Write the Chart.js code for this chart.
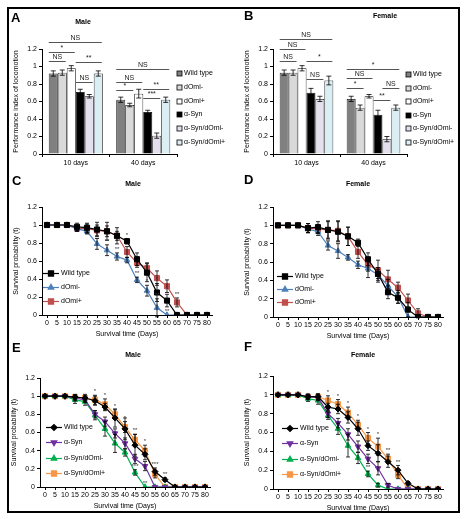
<!DOCTYPE html>
<html>
<head>
<meta charset="utf-8">
<script src="https://cdn.jsdelivr.net/npm/chart.js@4.4.1/dist/chart.umd.min.js"></script>
<style>
  body { margin: 0; background: #fff; }
  #fig { position: relative; width: 465px; height: 519px; background: #fff; }
  #frame { position: absolute; left: 7px; top: 7px; width: 449px; height: 502px; border: 2px solid #000; }
  canvas { position: absolute; }
</style>
</head>
<body>
<div id="fig">
  <div id="frame"></div>
  <canvas id="pA" width="224" height="164" style="left:8px;top:8px"></canvas>
  <canvas id="pB" width="222" height="164" style="left:239px;top:8px"></canvas>
  <canvas id="pC" width="224" height="168" style="left:8px;top:172px"></canvas>
  <canvas id="pD" width="222" height="168" style="left:239px;top:172px"></canvas>
  <canvas id="pE" width="224" height="172" style="left:8px;top:340px"></canvas>
  <canvas id="pF" width="222" height="172" style="left:239px;top:340px"></canvas>
</div>
<script>
// ---- data ----
const groups = ['10 days', '40 days'];
const barSeries = ['Wild type', 'dOmi-', 'dOmi+', 'α-Syn', 'α-Syn/dOmi-', 'α-Syn/dOmi+'];

// locomotion, one [10 days, 40 days] pair per genotype
const maleLoco = [[0.92, 0.62], [0.93, 0.56], [0.98, 0.69], [0.71, 0.48], [0.66, 0.21], [0.92, 0.62]];
const maleLocoErr = [[0.03, 0.03], [0.03, 0.02], [0.03, 0.05], [0.03, 0.02], [0.02, 0.03], [0.03, 0.03]];
const femaleLoco = [[0.93, 0.63], [0.93, 0.53], [0.98, 0.66], [0.70, 0.45], [0.63, 0.17], [0.84, 0.53]];
const femaleLocoErr = [[0.03, 0.03], [0.03, 0.03], [0.03, 0.02], [0.05, 0.05], [0.03, 0.03], [0.05, 0.03]];

// significance: [group, first bar, last bar, level, label]
const maleSig = [
  [0, 0, 5, 1.28, 'NS'], [0, 0, 2, 1.17, '*'], [0, 0, 1, 1.06, 'NS'], [0, 3, 5, 1.05, '**'], [0, 3, 4, 0.82, 'NS'],
  [1, 0, 5, 0.97, 'NS'], [1, 0, 2, 0.82, 'NS'], [1, 0, 1, 0.73, '*'], [1, 3, 5, 0.74, '**'], [1, 3, 4, 0.64, '***']
];
const femaleSig = [
  [0, 0, 5, 1.31, 'NS'], [0, 0, 2, 1.20, 'NS'], [0, 0, 1, 1.06, 'NS'], [0, 3, 5, 1.06, '*'], [0, 3, 4, 0.86, 'NS'],
  [1, 0, 5, 0.97, '*'], [1, 0, 2, 0.87, 'NS'], [1, 0, 1, 0.76, '*'], [1, 4, 5, 0.75, 'NS'], [1, 3, 4, 0.62, '**']
];

const days = ['0', '5', '10', '15', '20', '25', '30', '35', '40', '45', '50', '55', '60', '65', '70', '75', '80'];

// C: male, dOmi lines
const cWT    = [1, 1, 1, 0.98, 0.97, 0.95, 0.93, 0.88, 0.82, 0.62, 0.47, 0.25, 0.16, 0, 0, 0, 0];
const cWTErr = [0, 0, 0, 0.04, 0.05, 0.08, 0.10, 0.09, 0.03, 0.07, 0.10, 0.10, 0.07, 0, 0, 0, 0];
const cMinus    = [1, 1, 1, 0.96, 0.93, 0.79, 0.72, 0.65, 0.61, 0.39, 0.27, 0.08, 0, 0, 0, 0, 0];
const cMinusErr = [0, 0, 0, 0.03, 0.03, 0.06, 0.06, 0.04, 0.03, 0.03, 0.06, 0.10, 0, 0, 0, 0, 0];
const cPlus    = [1, 1, 1, 0.96, 0.96, 0.94, 0.93, 0.88, 0.70, 0.58, 0.52, 0.41, 0.32, 0.14, 0, 0, 0];
const cPlusErr = [0, 0, 0, 0.03, 0.05, 0.06, 0.06, 0.05, 0.06, 0.05, 0.06, 0.08, 0.07, 0.05, 0, 0, 0];
// stars: [series, day index, label]
const cStars = [[0, 8, '*'], [1, 6, '**'], [1, 7, '**'], [1, 9, '**'], [1, 10, '*'], [1, 11, '**'], [1, 12, '**'], [2, 13, '**']];

// D: female, dOmi lines
const dWT    = [1, 1, 1, 0.97, 0.98, 0.95, 0.93, 0.88, 0.81, 0.63, 0.47, 0.27, 0.21, 0.08, 0, 0, 0];
const dWTErr = [0, 0, 0, 0.05, 0.06, 0.10, 0.11, 0.10, 0.04, 0.07, 0.05, 0.07, 0.06, 0.08, 0, 0, 0];
const dMinus    = [1, 1, 1, 0.96, 0.93, 0.78, 0.72, 0.65, 0.57, 0.53, 0.46, 0.34, 0.22, 0, 0, 0, 0];
const dMinusErr = [0, 0, 0, 0.04, 0.04, 0.05, 0.08, 0.03, 0.04, 0.10, 0.08, 0.07, 0.07, 0, 0, 0, 0];
const dPlus    = [1, 1, 1, 0.97, 0.96, 0.95, 0.94, 0.88, 0.71, 0.57, 0.51, 0.41, 0.32, 0.18, 0.04, 0, 0];
const dPlusErr = [0, 0, 0, 0.05, 0.05, 0.09, 0.11, 0.10, 0.07, 0.07, 0.11, 0.10, 0.06, 0.07, 0.05, 0, 0];
const dStars = [[1, 5, '*'], [1, 6, '*']];

// E: male, alpha-synuclein lines
const eWT    = [1, 1, 1, 0.99, 0.98, 0.95, 0.88, 0.76, 0.64, 0.46, 0.36, 0.17, 0.08, 0, 0, 0, 0];
const eWTErr = [0, 0, 0, 0.03, 0.04, 0.05, 0.04, 0.10, 0.12, 0.12, 0.06, 0.04, 0.02, 0, 0, 0, 0];
const eSyn    = [1, 1, 1, 0.98, 0.96, 0.80, 0.72, 0.59, 0.48, 0.31, 0.23, 0, 0, 0, 0, 0, 0];
const eSynErr = [0, 0, 0, 0.03, 0.03, 0.04, 0.05, 0.05, 0.06, 0.05, 0.05, 0, 0, 0, 0, 0, 0];
const eSynMinus    = [1, 1, 1, 0.96, 0.94, 0.79, 0.64, 0.48, 0.38, 0.16, 0, 0, 0, 0, 0, 0, 0];
const eSynMinusErr = [0, 0, 0, 0.04, 0.04, 0.05, 0.08, 0.10, 0.04, 0.03, 0, 0, 0, 0, 0, 0, 0];
const eSynPlus    = [1, 1, 1, 0.99, 0.98, 0.96, 0.91, 0.80, 0.66, 0.52, 0.40, 0.14, 0, 0, 0, 0, 0];
const eSynPlusErr = [0, 0, 0, 0.02, 0.03, 0.05, 0.06, 0.05, 0.06, 0.06, 0.06, 0.04, 0, 0, 0, 0, 0];
const eStars = [[3, 5, '*'], [3, 6, '*'], [3, 7, '*'], [3, 8, '*'], [3, 9, '**'], [3, 10, '*'], [0, 11, '***'], [0, 12, '**'], [2, 9, '***'], [2, 10, '**']];

// F: female, alpha-synuclein lines
const fWT    = [1, 1, 1, 0.98, 0.98, 0.87, 0.85, 0.76, 0.64, 0.46, 0.38, 0.29, 0.20, 0.06, 0, 0, 0];
const fWTErr = [0, 0, 0, 0.02, 0.03, 0.04, 0.05, 0.06, 0.07, 0.05, 0.09, 0.06, 0.05, 0.02, 0, 0, 0];
const fSyn    = [1, 1, 1, 0.98, 0.97, 0.80, 0.70, 0.58, 0.45, 0.32, 0.22, 0.04, 0, 0, 0, 0, 0];
const fSynErr = [0, 0, 0, 0.03, 0.03, 0.04, 0.05, 0.06, 0.06, 0.05, 0.07, 0.02, 0, 0, 0, 0, 0];
const fSynMinus    = [1, 1, 1, 0.96, 0.94, 0.78, 0.64, 0.46, 0.33, 0.16, 0.04, 0, 0, 0, 0, 0, 0];
const fSynMinusErr = [0, 0, 0, 0.03, 0.04, 0.04, 0.06, 0.12, 0.06, 0.03, 0.02, 0, 0, 0, 0, 0, 0];
const fSynPlus    = [1, 1, 1, 0.98, 0.98, 0.94, 0.90, 0.81, 0.68, 0.54, 0.45, 0.32, 0.15, 0, 0, 0, 0];
const fSynPlusErr = [0, 0, 0, 0.02, 0.03, 0.05, 0.05, 0.06, 0.05, 0.06, 0.09, 0.05, 0.04, 0, 0, 0, 0];
const fStars = [[3, 5, '*'], [3, 6, '*'], [3, 7, '*'], [3, 8, '*'], [3, 9, '*'], [3, 10, '*'], [3, 11, '**'], [0, 12, '**'], [2, 9, '**']];

// ---- styling ----
const FONT = 'Liberation Sans, Arial, sans-serif';
Chart.defaults.font.family = FONT;
Chart.defaults.font.size = 7;
Chart.defaults.color = '#000';

const barFill = ['#808080', '#d9d9d9', '#ffffff', '#000000', '#e4dfec', '#daeef3'];
const markerSize = { rect: 3.6, rectRot: 3, triangle: 3.2 };

const errPlugin = {
  id: 'errbars',
  afterDatasetsDraw(chart) {
    const ctx = chart.ctx, ys = chart.scales.y;
    const cap = chart.config.type === 'bar' ? 2.5 : 2;
    ctx.save();
    ctx.strokeStyle = '#000';
    ctx.lineWidth = 0.8;
    chart.data.datasets.forEach((ds, i) => {
      if (!ds.errs) return;
      chart.getDatasetMeta(i).data.forEach((el, j) => {
        const e = ds.errs[j];
        if (!e) return;
        const v = ds.data[j];
        const x = el.x, y1 = ys.getPixelForValue(v - e), y2 = ys.getPixelForValue(v + e);
        ctx.beginPath();
        ctx.moveTo(x, y1); ctx.lineTo(x, y2);
        ctx.moveTo(x - cap, y1); ctx.lineTo(x + cap, y1);
        ctx.moveTo(x - cap, y2); ctx.lineTo(x + cap, y2);
        ctx.stroke();
      });
    });
    ctx.restore();
  }
};

function sigPlugin(sig) {
  return {
    id: 'sig',
    afterDatasetsDraw(chart) {
      const ctx = chart.ctx, ys = chart.scales.y;
      ctx.save();
      ctx.strokeStyle = '#555';
      ctx.lineWidth = 1;
      ctx.fillStyle = '#222';
      ctx.font = '7px ' + FONT;
      ctx.textAlign = 'center';
      ctx.textBaseline = 'bottom';
      sig.forEach(([g, a, b, v, txt]) => {
        const ea = chart.getDatasetMeta(a).data[g], eb = chart.getDatasetMeta(b).data[g];
        const x1 = ea.x - ea.width / 2, x2 = eb.x + eb.width / 2 - 1;
        const y = Math.round(ys.getPixelForValue(v)) + 0.5;
        ctx.beginPath(); ctx.moveTo(x1, y); ctx.lineTo(x2, y); ctx.stroke();
        ctx.fillText(txt, (x1 + x2) / 2, y - 1);
      });
      ctx.restore();
    }
  };
}

function starPlugin(stars) {
  return {
    id: 'stars',
    afterDatasetsDraw(chart) {
      const ctx = chart.ctx, ys = chart.scales.y;
      ctx.save();
      ctx.fillStyle = '#333';
      ctx.font = '6px ' + FONT;
      ctx.textAlign = 'center';
      ctx.textBaseline = 'bottom';
      stars.forEach(([s, j, txt]) => {
        const ds = chart.data.datasets[s];
        const el = chart.getDatasetMeta(s).data[j];
        const top = ys.getPixelForValue(ds.data[j] + (ds.errs[j] || 0));
        ctx.fillText(txt, el.x, top - 0.5);
      });
      ctx.restore();
    }
  };
}

function decoPlugin(cfg) {
  return {
    id: 'deco',
    afterDraw(chart) {
      const ctx = chart.ctx, area = chart.chartArea;
      ctx.save();
      ctx.fillStyle = '#000';
      ctx.textBaseline = 'middle';
      ctx.font = 'bold 13px ' + FONT;
      ctx.textAlign = 'left';
      ctx.fillText(cfg.letter, cfg.lx, cfg.ly);
      ctx.font = 'bold 7px ' + FONT;
      ctx.textAlign = 'center';
      ctx.fillText(cfg.title, cfg.tx, cfg.ty);
      ctx.font = '7px ' + FONT;
      ctx.textAlign = 'left';
      const lg = cfg.legend;
      chart.data.datasets.forEach((ds, i) => {
        const y = Math.round(lg.y + i * lg.dy) + 0.5;
        if (chart.config.type === 'bar') {
          ctx.fillStyle = ds.backgroundColor;
          ctx.strokeStyle = '#000';
          ctx.lineWidth = 0.8;
          ctx.fillRect(lg.x, y - 2.5, 5, 5);
          ctx.strokeRect(lg.x, y - 2.5, 5, 5);
          ctx.fillStyle = '#000';
          ctx.fillText(ds.label, lg.x + 7, y);
        } else {
          const x0 = area.left + lg.x;
          ctx.strokeStyle = ds.borderColor;
          ctx.lineWidth = 1.2;
          ctx.beginPath(); ctx.moveTo(x0, y); ctx.lineTo(x0 + lg.len, y); ctx.stroke();
          ctx.fillStyle = ds.backgroundColor;
          Chart.helpers.drawPoint(ctx, {
            pointStyle: ds.pointStyle, radius: ds.pointRadius, rotation: ds.rotation || 0, borderWidth: 1
          }, x0 + lg.len / 2, y);
          ctx.fillStyle = '#000';
          ctx.fillText(ds.label, x0 + lg.len + 2, y);
        }
      });
      ctx.restore();
    }
  };
}

function yScale(title) {
  return {
    min: 0, max: 1.2,
    afterFit: s => { s.width = 30; },
    ticks: { stepSize: 0.2, padding: 2, callback: v => String(+v.toFixed(1)) },
    grid: { drawOnChartArea: false, tickLength: 3, color: '#000' },
    border: { color: '#000' },
    title: { display: true, text: title, padding: 0 }
  };
}

function barPanel(id, vals, errs, sig, cfg) {
  new Chart(document.getElementById(id), {
    type: 'bar',
    data: {
      labels: groups,
      datasets: barSeries.map((name, i) => ({
        label: name,
        data: vals[i],
        errs: errs[i],
        backgroundColor: barFill[i],
        borderColor: '#000',
        borderWidth: 0.8,
        categoryPercentage: 0.8,
        barPercentage: 1
      }))
    },
    options: {
      responsive: false,
      animation: false,
      layout: { padding: cfg.pad },
      plugins: { legend: { display: false }, tooltip: { enabled: false } },
      scales: {
        x: {
          afterFit: s => { s.height = 16; },
          grid: { drawOnChartArea: false, tickLength: 3, color: '#000' },
          border: { color: '#000' },
          ticks: { padding: 2 }
        },
        y: yScale('Performance index of locomotion')
      }
    },
    plugins: [errPlugin, sigPlugin(sig), decoPlugin(cfg)]
  });
}

function linePanel(id, series, stars, cfg) {
  new Chart(document.getElementById(id), {
    type: 'line',
    data: {
      labels: days,
      datasets: series.map(s => ({
        label: s.name,
        data: s.data,
        errs: s.err,
        borderColor: s.color,
        backgroundColor: s.color,
        pointStyle: s.marker,
        rotation: s.rot || 0,
        pointRadius: markerSize[s.marker],
        pointBorderWidth: 1,
        borderWidth: 1.2,
        tension: 0
      }))
    },
    options: {
      responsive: false,
      animation: false,
      layout: { padding: cfg.pad },
      plugins: { legend: { display: false }, tooltip: { enabled: false } },
      scales: {
        x: {
          offset: true,
          afterFit: s => { s.height = 23; },
          grid: { drawOnChartArea: false, tickLength: 3, color: '#000', offset: false },
          border: { color: '#000' },
          ticks: { padding: 1, autoSkip: false, maxRotation: 0 },
          title: { display: true, text: 'Survival time (Days)', padding: 0 }
        },
        y: yScale('Survival probability (t)')
      }
    },
    plugins: [errPlugin, starPlugin(stars), decoPlugin(cfg)]
  });
}

barPanel('pA', maleLoco, maleLocoErr, maleSig, {
  letter: 'A', lx: 3, ly: 10, title: 'Male', tx: 75, ty: 14,
  pad: { left: 4, top: 41, right: 55, bottom: 2 },
  legend: { x: 169, y: 65, dy: 13.8 }
});
barPanel('pB', femaleLoco, femaleLocoErr, femaleSig, {
  letter: 'B', lx: 5, ly: 8, title: 'Female', tx: 146, ty: 8,
  pad: { left: 4, top: 41, right: 54, bottom: 2 },
  legend: { x: 167, y: 66, dy: 13.6 }
});

linePanel('pC', [
  { name: 'Wild type', data: cWT, err: cWTErr, color: '#000000', marker: 'rect' },
  { name: 'dOmi-', data: cMinus, err: cMinusErr, color: '#4f81bd', marker: 'triangle' },
  { name: 'dOmi+', data: cPlus, err: cPlusErr, color: '#c0504d', marker: 'rect' }
], cStars, {
  letter: 'C', lx: 4, ly: 9, title: 'Male', tx: 125, ty: 12,
  pad: { left: 4, top: 35, right: 20, bottom: 2 },
  legend: { x: 1, y: 101, dy: 14, len: 16 }
});
linePanel('pD', [
  { name: 'Wild type', data: dWT, err: dWTErr, color: '#000000', marker: 'rect' },
  { name: 'dOmi-', data: dMinus, err: dMinusErr, color: '#4f81bd', marker: 'triangle' },
  { name: 'dOmi+', data: dPlus, err: dPlusErr, color: '#c0504d', marker: 'rect' }
], dStars, {
  letter: 'D', lx: 5, ly: 8, title: 'Female', tx: 119, ty: 12,
  pad: { left: 4, top: 35, right: 18, bottom: 0 },
  legend: { x: 4, y: 104, dy: 13, len: 16 }
});
linePanel('pE', [
  { name: 'Wild type', data: eWT, err: eWTErr, color: '#000000', marker: 'rectRot' },
  { name: 'α-Syn', data: eSyn, err: eSynErr, color: '#7030a0', marker: 'triangle', rot: 180 },
  { name: 'α-Syn/dOmi-', data: eSynMinus, err: eSynMinusErr, color: '#00b050', marker: 'triangle' },
  { name: 'α-Syn/dOmi+', data: eSynPlus, err: eSynPlusErr, color: '#f79646', marker: 'rect' }
], eStars, {
  letter: 'E', lx: 4, ly: 8, title: 'Male', tx: 125, ty: 15,
  pad: { left: 2, top: 38, right: 22, bottom: 2 },
  legend: { x: 6, y: 87, dy: 15.3, len: 16 }
});
linePanel('pF', [
  { name: 'Wild type', data: fWT, err: fWTErr, color: '#000000', marker: 'rectRot' },
  { name: 'α-Syn', data: fSyn, err: fSynErr, color: '#7030a0', marker: 'triangle', rot: 180 },
  { name: 'α-Syn/dOmi-', data: fSynMinus, err: fSynMinusErr, color: '#00b050', marker: 'triangle' },
  { name: 'α-Syn/dOmi+', data: fSynPlus, err: fSynPlusErr, color: '#f79646', marker: 'rect' }
], fStars, {
  letter: 'F', lx: 5, ly: 7, title: 'Female', tx: 124, ty: 15,
  pad: { left: 4, top: 36, right: 18, bottom: 0 },
  legend: { x: 9, y: 88, dy: 15.3, len: 16 }
});
</script>
</body>
</html>
